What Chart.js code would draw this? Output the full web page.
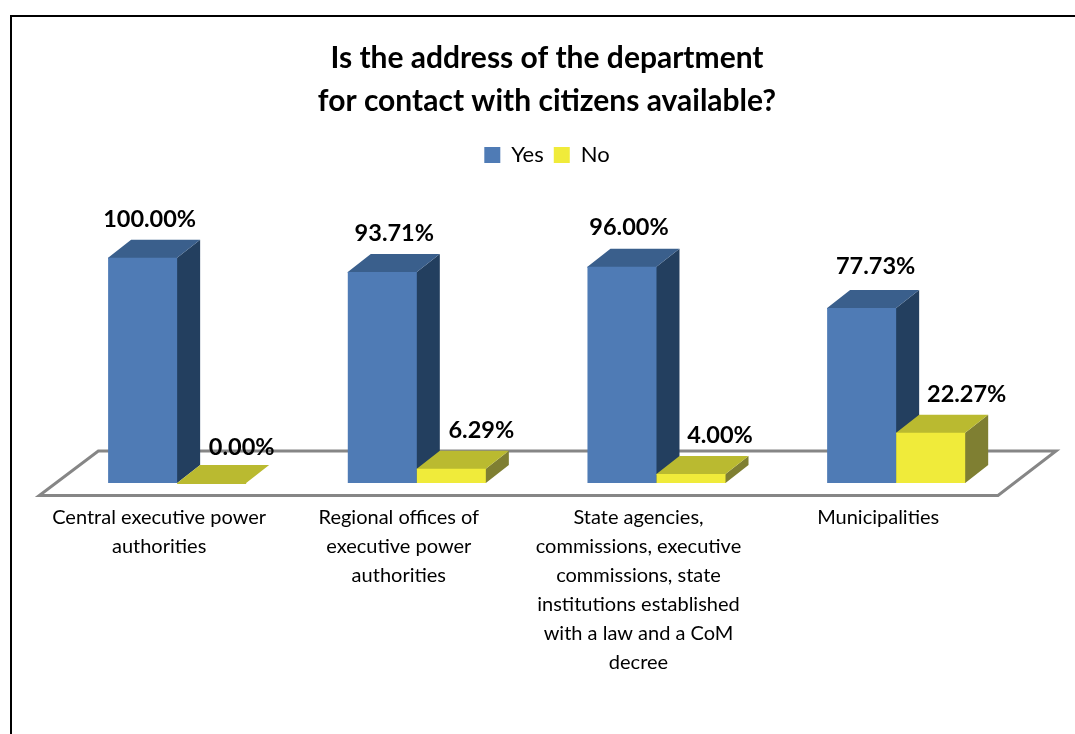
<!DOCTYPE html>
<html><head><meta charset="utf-8">
<style>html,body{margin:0;padding:0;background:#fff;overflow:hidden}canvas{display:block}</style>
<script src="https://cdn.jsdelivr.net/npm/chart.js@4/dist/chart.umd.js"></script>
</head><body><canvas id="c" width="1075" height="734"></canvas>
<script>
const titleLines = ["Is the address of the department", "for contact with citizens available?"];
const categories = [
  ["Central executive power", "authorities"],
  ["Regional offices of", "executive power", "authorities"],
  ["State agencies,", "commissions, executive", "commissions, state", "institutions established", "with a law and a CoM", "decree"],
  ["Municipalities"]
];
const yesValues = [100.00, 93.71, 96.00, 77.73];
const noValues = [0.00, 6.29, 4.00, 22.27];

const FONT = "Lato, 'Open Sans', sans-serif";
const DEPTH_X = 23, DEPTH_Y = 18;
const faces = [
  {front: "#4F7BB5", top: "#3A5F8C", side: "#233F5F"},
  {front: "#F0EB3A", top: "#BABA30", side: "#7F7F32"}
];
const labelShiftX = [[7, 12, 7, 14], [30, 30, 29, 36]];
const labelShiftY = [[-38, -39, -39, -42], [-36, -38, -39, -38]];

function poly(ctx, pts, fill) {
  ctx.beginPath();
  pts.forEach((p, i) => i ? ctx.lineTo(p[0], p[1]) : ctx.moveTo(p[0], p[1]));
  ctx.closePath();
  ctx.fillStyle = fill;
  ctx.fill();
}
function drawDepth(chart, index) {
  const ctx = chart.ctx, f = faces[index], y0 = chart.scales.y.getPixelForValue(0);
  ctx.save();
  chart.getDatasetMeta(index).data.forEach(bar => {
    const l = bar.x - bar.width / 2, r = bar.x + bar.width / 2, t = bar.y;
    poly(ctx, [[r - 1, y0], [r, y0], [r + DEPTH_X, y0 - DEPTH_Y], [r + DEPTH_X, t - DEPTH_Y], [r, t], [r - 1, t]], f.side);
    poly(ctx, [[l, t + 1], [r, t + 1], [r, t], [r + DEPTH_X, t - DEPTH_Y], [l + DEPTH_X, t - DEPTH_Y], [l, t]], f.top);
  });
  ctx.restore();
}

const scene3d = {
  id: "scene3d",
  beforeDatasetsDraw(chart) {
    const ctx = chart.ctx, a = chart.chartArea, y0 = chart.scales.y.getPixelForValue(0);
    ctx.save();
    ctx.beginPath();
    ctx.moveTo(a.left - 18, y0 + 12.5);
    ctx.lineTo(a.right - 18, y0 + 12.5);
    ctx.lineTo(a.right + 40, y0 - 32);
    ctx.lineTo(a.left + 41, y0 - 32);
    ctx.closePath();
    ctx.strokeStyle = "#868686";
    ctx.lineWidth = 3;
    ctx.stroke();
    ctx.restore();
  },
  beforeDatasetDraw(chart, args) {
    if (args.index === 1) return false; /* "No" is painted after "Yes" so it sits in front */
    drawDepth(chart, 0);
  },
  afterDatasetDraw(chart, args) {
    if (args.index !== 0) return;
    drawDepth(chart, 1);
    chart.getDatasetMeta(1).controller.draw();
  },
  afterDatasetsDraw(chart) {
    const ctx = chart.ctx;
    ctx.save();
    ctx.font = "bold 23.5px " + FONT;
    ctx.fillStyle = "#000";
    ctx.textAlign = "center";
    ctx.textBaseline = "middle";
    chart.data.datasets.forEach((ds, i) => {
      chart.getDatasetMeta(i).data.forEach((bar, j) => {
        ctx.fillText(ds.data[j].toFixed(2) + "%", bar.x + labelShiftX[i][j], bar.y + labelShiftY[i][j]);
      });
    });
    ctx.restore();
  },
  afterDraw(chart) {
    const ctx = chart.ctx;
    ctx.save();
    ctx.fillStyle = "#000";
    ctx.fillRect(10, 15, 2, 719);
    ctx.fillRect(10, 15, 1065, 2);
    ctx.restore();
  }
};

new Chart(document.getElementById("c"), {
  type: "bar",
  plugins: [scene3d],
  data: {
    labels: categories,
    datasets: [
      {label: "Yes", data: yesValues, backgroundColor: faces[0].front},
      {label: "No", data: noValues, backgroundColor: faces[1].front}
    ]
  },
  options: {
    responsive: false,
    animation: false,
    layout: {padding: {left: 30, right: 11, top: 0, bottom: 0}},
    datasets: {bar: {barPercentage: 1, categoryPercentage: 0.576}},
    plugins: {
      tooltip: {enabled: false},
      title: {
        display: true,
        text: titleLines,
        color: "#000",
        font: {family: FONT, weight: "bold", size: 30, lineHeight: 43 / 30},
        padding: {top: 37, bottom: 11}
      },
      legend: {
        display: true,
        position: "top",
        labels: {color: "#000", font: {family: FONT, size: 22}, boxWidth: 16, boxHeight: 16, padding: 10}
      }
    },
    scales: {
      x: {
        grid: {display: false},
        border: {display: false},
        afterFit(s) { s.height = 251; s.paddingLeft = 0; s.paddingRight = 0; },
        ticks: {
          color: "#000",
          autoSkip: false,
          maxRotation: 0,
          minRotation: 0,
          padding: 12,
          labelOffset: -18,
          font: {family: FONT, size: 20, lineHeight: 29 / 20}
        }
      },
      y: {
        min: 0, max: 136.3,
        grid: {display: false},
        border: {display: false},
        ticks: {display: false},
        afterFit(s) { s.width = 27.3; }
      },
      yRight: {
        position: "right",
        min: 0, max: 136.3,
        grid: {display: false},
        border: {display: false},
        ticks: {display: false},
        afterFit(s) { s.width = 48; }
      }
    }
  }
});
</script></body></html>
